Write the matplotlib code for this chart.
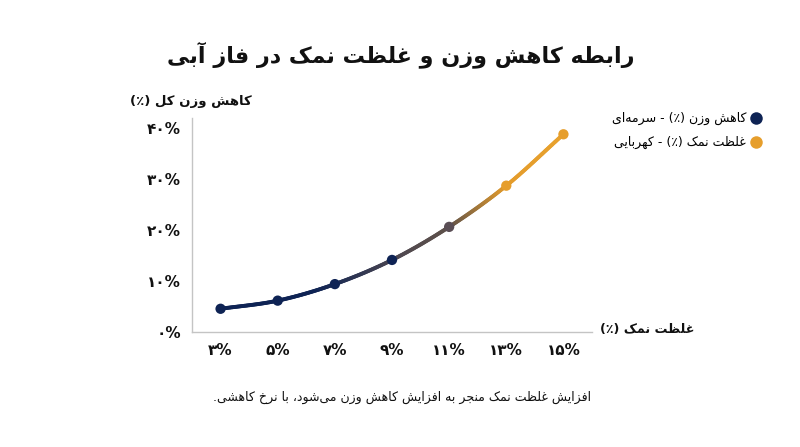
import matplotlib
matplotlib.use('Agg')
import matplotlib.pyplot as plt
import numpy as np
from matplotlib.collections import LineCollection
from matplotlib.colors import to_rgb
from matplotlib.lines import Line2D

# ---------------- data ----------------
title = "رابطه کاهش وزن و غلظت نمک در فاز آبی"
y_label = "کاهش وزن کل (٪)"
x_label = "غلظت نمک (٪)"
caption = "افزایش غلظت نمک منجر به افزایش کاهش وزن می\u200cشود، با نرخ کاهشی."
legend_labels = ["کاهش وزن (٪) - سرمه\u200cای", "غلظت نمک (٪) - کهربایی"]
salt = [3, 5, 7, 9, 11, 13, 15]
weight_loss = [4.5, 6.1, 9.35, 14.1, 20.6, 28.7, 38.8]
x_tick_labels = ["۳%", "۵%", "۷%", "۹%", "۱۱%", "۱۳%", "۱۵%"]
y_ticks = [0, 10, 20, 30, 40]
y_tick_labels = ["۰%", "۱۰%", "۲۰%", "۳۰%", "۴۰%"]

NAVY = "#0e2354"
MID = "#5a4e55"
AMBER = "#e69e2c"
marker_colors = [NAVY, NAVY, NAVY, NAVY, MID, AMBER, AMBER]

# ---------------- minimal Arabic/Persian shaping ----------------
FORMS = {
    '\u0627': (0xFE8D, 0xFE8E, None, None),
    '\u0622': (0xFE81, 0xFE82, None, None),
    '\u0628': (0xFE8F, 0xFE90, 0xFE91, 0xFE92),
    '\u067E': (0xFB56, 0xFB57, 0xFB58, 0xFB59),
    '\u062A': (0xFE95, 0xFE96, 0xFE97, 0xFE98),
    '\u062B': (0xFE99, 0xFE9A, 0xFE9B, 0xFE9C),
    '\u062C': (0xFE9D, 0xFE9E, 0xFE9F, 0xFEA0),
    '\u0686': (0xFB7A, 0xFB7B, 0xFB7C, 0xFB7D),
    '\u062D': (0xFEA1, 0xFEA2, 0xFEA3, 0xFEA4),
    '\u062E': (0xFEA5, 0xFEA6, 0xFEA7, 0xFEA8),
    '\u062F': (0xFEA9, 0xFEAA, None, None),
    '\u0630': (0xFEAB, 0xFEAC, None, None),
    '\u0631': (0xFEAD, 0xFEAE, None, None),
    '\u0632': (0xFEAF, 0xFEB0, None, None),
    '\u0698': (0xFB8A, 0xFB8B, None, None),
    '\u0633': (0xFEB1, 0xFEB2, 0xFEB3, 0xFEB4),
    '\u0634': (0xFEB5, 0xFEB6, 0xFEB7, 0xFEB8),
    '\u0635': (0xFEB9, 0xFEBA, 0xFEBB, 0xFEBC),
    '\u0636': (0xFEBD, 0xFEBE, 0xFEBF, 0xFEC0),
    '\u0637': (0xFEC1, 0xFEC2, 0xFEC3, 0xFEC4),
    '\u0638': (0xFEC5, 0xFEC6, 0xFEC7, 0xFEC8),
    '\u0639': (0xFEC9, 0xFECA, 0xFECB, 0xFECC),
    '\u063A': (0xFECD, 0xFECE, 0xFECF, 0xFED0),
    '\u0641': (0xFED1, 0xFED2, 0xFED3, 0xFED4),
    '\u0642': (0xFED5, 0xFED6, 0xFED7, 0xFED8),
    '\u06A9': (0xFB8E, 0xFB8F, 0xFB90, 0xFB91),
    '\u06AF': (0xFB92, 0xFB93, 0xFB94, 0xFB95),
    '\u0644': (0xFEDD, 0xFEDE, 0xFEDF, 0xFEE0),
    '\u0645': (0xFEE1, 0xFEE2, 0xFEE3, 0xFEE4),
    '\u0646': (0xFEE5, 0xFEE6, 0xFEE7, 0xFEE8),
    '\u0648': (0xFEED, 0xFEEE, None, None),
    '\u0647': (0xFEE9, 0xFEEA, 0xFEEB, 0xFEEC),
    '\u06CC': (0xFBFC, 0xFBFD, 0xFBFE, 0xFBFF),
    '\u0626': (0xFE89, 0xFE8A, 0xFE8B, 0xFE8C),
}
MIRROR = {'(': ')', ')': '(', '[': ']', ']': '['}
LTR = set('0123456789۰۱۲۳۴۵۶۷۸۹%')


def reshape(s):
    chars = list(s)
    n = len(chars)
    out = []
    for i, c in enumerate(chars):
        if c == '\u200c':
            continue
        if c not in FORMS:
            out.append(c)
            continue
        prev = chars[i - 1] if i > 0 else None
        nxt = chars[i + 1] if i + 1 < n else None
        jp = prev in FORMS and FORMS[prev][2] is not None
        jn = nxt in FORMS and FORMS[c][2] is not None
        iso, fin, ini, med = FORMS[c]
        if jp and jn:
            out.append(chr(med))
        elif jp:
            out.append(chr(fin))
        elif jn:
            out.append(chr(ini))
        else:
            out.append(chr(iso))
    return ''.join(out)


def fa(s):
    s = reshape(s)
    runs = []
    for c in s:
        ltr = c in LTR
        if runs and runs[-1][0] == ltr:
            runs[-1][1].append(c)
        else:
            runs.append([ltr, [c]])
    out = []
    for ltr, cs in reversed(runs):
        if ltr:
            out.extend(cs)
        else:
            out.extend(MIRROR.get(c, c) for c in reversed(cs))
    return ''.join(out)


plt.rcParams['font.family'] = ['DejaVu Sans']

fig = plt.figure(figsize=(8, 4.47), dpi=100)
ax = fig.add_axes([0.24, 0.258, 0.5, 0.478])

# smooth curve through the data points (Catmull-Rom for rendering)
P = np.column_stack([salt, weight_loss]).astype(float)
ext = np.vstack([2 * P[0] - P[1], P, 2 * P[-1] - P[-2]])
segs_pts = []
for i in range(len(P) - 1):
    p0, p1, p2, p3 = ext[i:i + 4]
    t = np.linspace(0, 1, 40, endpoint=False)[:, None]
    c = 0.5 * (2 * p1 + (-p0 + p2) * t + (2 * p0 - 5 * p1 + 4 * p2 - p3) * t ** 2
               + (-p0 + 3 * p1 - 3 * p2 + p3) * t ** 3)
    segs_pts.append(c)
segs_pts.append(P[-1:])
curve = np.vstack(segs_pts)
segments = np.stack([curve[:-1], curve[1:]], axis=1)

stop_x = [3, 6.3, 9.3, 11, 13, 15]
stop_c = [to_rgb(NAVY), to_rgb(NAVY), to_rgb("#4f4850"), to_rgb("#5e5149"),
          to_rgb("#e39b2b"), to_rgb("#e8a22e")]
stop_c = np.array(stop_c)
mx = segments[:, :, 0].mean(axis=1)
cols = np.column_stack([np.interp(mx, stop_x, stop_c[:, k]) for k in range(3)])
lc = LineCollection(segments, colors=cols, linewidths=2.8, capstyle='round', zorder=2)
ax.add_collection(lc)
ax.scatter(salt, weight_loss, s=55, c=marker_colors, zorder=3, linewidths=0)

ax.set_xlim(2, 16)
ax.set_ylim(0, 42)
ax.set_xticks(salt)
ax.set_xticklabels(x_tick_labels, fontsize=11, fontweight='bold')
ax.set_yticks(y_ticks)
ax.set_yticklabels(y_tick_labels, fontsize=11, fontweight='bold')
ax.tick_params(length=0, pad=8, colors='#111111')
for sp in ['top', 'right']:
    ax.spines[sp].set_visible(False)
for sp in ['left', 'bottom']:
    ax.spines[sp].set_color('#c4c4c4')
    ax.spines[sp].set_linewidth(1.0)

fig.text(0.501, 0.877, fa(title), ha='center', va='center', fontsize=16,
         fontweight='bold', color='#111111')
fig.text(0.239, 0.774, fa(y_label), ha='center', va='center', fontsize=9.5,
         fontweight='bold', color='#111111')
fig.text(0.75, 0.263, fa(x_label), ha='left', va='center', fontsize=9.2,
         fontweight='bold', color='#111111')
fig.text(0.503, 0.11, fa(caption), ha='center', va='center', fontsize=9,
         color='#111111')

handles = [Line2D([], [], marker='o', linestyle='', markersize=9,
                  markerfacecolor=NAVY, markeredgewidth=0),
           Line2D([], [], marker='o', linestyle='', markersize=9,
                  markerfacecolor=AMBER, markeredgewidth=0)]
fig.legend(handles, [fa(l) for l in legend_labels], loc='upper right',
           bbox_to_anchor=(0.967, 0.774), frameon=False, markerfirst=False,
           fontsize=9, handletextpad=0.3, labelspacing=0.85, handlelength=1.0)

fig.savefig('out.png', dpi=100, facecolor='white')
